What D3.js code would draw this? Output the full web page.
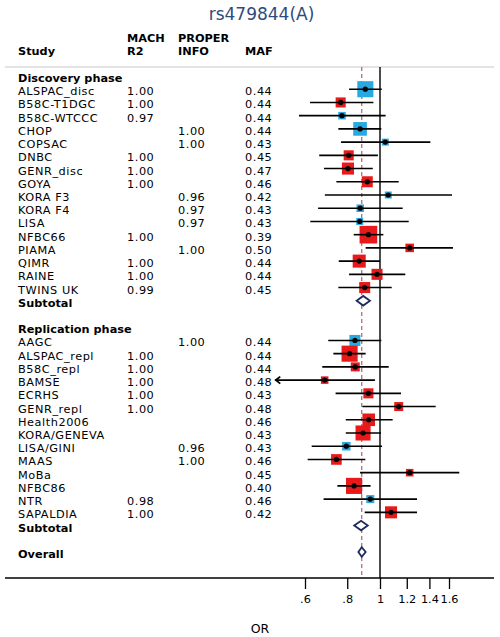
<!DOCTYPE html>
<html><head><meta charset="utf-8">
<script src="https://cdn.jsdelivr.net/npm/d3@7"></script>
<style>
body{margin:0;background:#fff;}
text{font-family:"DejaVu Sans",Verdana,sans-serif;}
</style></head>
<body><svg id="c" width="500" height="637"></svg>
<script>
// ---- data ----
const title = "rs479844(A)";
const discStudies = ["ALSPAC_disc","B58C-T1DGC","B58C-WTCCC","CHOP","COPSAC","DNBC","GENR_disc","GOYA","KORA F3","KORA F4","LISA","NFBC66","PIAMA","QIMR","RAINE","TWINS UK"];
const discMach   = ["1.00","1.00","0.97","","","1.00","1.00","1.00","","","","1.00","","1.00","1.00","0.99"];
const discProper = ["","","","1.00","1.00","","","","0.96","0.97","0.97","","1.00","","",""];
const discMaf    = ["0.44","0.44","0.44","0.44","0.43","0.45","0.47","0.46","0.42","0.43","0.43","0.39","0.50","0.44","0.44","0.45"];
const discOR     = [0.905,0.765,0.772,0.873,1.037,0.808,0.804,0.917,1.058,0.874,0.871,0.924,1.224,0.868,0.980,0.901];
const discLo     = [0.810,0.621,0.576,0.753,0.767,0.661,0.683,0.743,0.687,0.656,0.622,0.836,0.907,0.755,0.810,0.753];
const discHi     = [1.012,0.956,1.039,1.009,1.409,0.986,0.952,1.136,1.633,1.167,1.216,1.023,1.644,1.000,1.188,1.083];
const discWeight = [6.4,2.5,1.4,4.6,1.2,2.5,3.6,3.0,1.2,1.4,1.2,7.7,1.8,4.2,3.0,3.0];
const discType   = ["b","r","b","b","b","r","r","r","b","b","b","r","r","r","r","r"];

const replStudies = ["AAGC","ALSPAC_repl","B58C_repl","BAMSE","ECRHS","GENR_repl","Health2006","KORA/GENEVA","LISA/GINI","MAAS","MoBa","NFBC86","NTR","SAPALDIA"];
const replMach   = ["","1.00","1.00","1.00","1.00","1.00","","","","","","","0.98","1.00"];
const replProper = ["1.00","","","","","","","","0.96","1.00","","","",""];
const replMaf    = ["0.44","0.44","0.44","0.48","0.43","0.48","0.46","0.43","0.43","0.46","0.45","0.40","0.46","0.42"];
const replOR     = [0.843,0.813,0.845,0.686,0.924,1.136,0.926,0.891,0.795,0.743,1.224,0.838,0.936,1.078];
const replLo     = [0.703,0.728,0.675,0.470,0.739,0.887,0.792,0.792,0.628,0.611,0.873,0.748,0.681,0.901];
const replHi     = [1.009,0.907,1.061,0.966,1.154,1.461,1.090,1.007,1.014,0.905,1.716,0.938,1.287,1.287];
const replWeight = [3.0,6.4,2.0,1.4,2.5,2.0,3.9,5.6,1.8,2.8,1.4,6.4,1.6,3.6];
const replType   = ["b","r","r","r","r","r","r","r","b","r","r","r","b","r"];

const pooledLabels = ["Subtotal","Subtotal","Overall"];
const pooledOR = [0.892,0.879,0.883];
const pooledLo = [0.853,0.839,0.863];
const pooledHi = [0.934,0.920,0.907];

const tickValues = [0.6,0.8,1,1.2,1.4,1.6];
const tickLabels = [".6",".8","1","1.2","1.4","1.6"];
const plotMin = 0.49; // lower display limit (arrow beyond)

// ---- build rows ----
const rows = [];
rows.push({kind:"head", label:"Discovery phase"});
discStudies.forEach((s,i)=>rows.push({kind:"study",label:s,mach:discMach[i],proper:discProper[i],maf:discMaf[i],or:discOR[i],lo:discLo[i],hi:discHi[i],w:discWeight[i],t:discType[i]}));
rows.push({kind:"pool",label:pooledLabels[0],or:pooledOR[0],lo:pooledLo[0],hi:pooledHi[0]});
rows.push({kind:"blank"});
rows.push({kind:"head", label:"Replication phase"});
replStudies.forEach((s,i)=>rows.push({kind:"study",label:s,mach:replMach[i],proper:replProper[i],maf:replMaf[i],or:replOR[i],lo:replLo[i],hi:replHi[i],w:replWeight[i],t:replType[i]}));
rows.push({kind:"pool",label:pooledLabels[1],or:pooledOR[1],lo:pooledLo[1],hi:pooledHi[1]});
rows.push({kind:"blank"});
rows.push({kind:"pool",label:pooledLabels[2],or:pooledOR[2],lo:pooledLo[2],hi:pooledHi[2]});

// ---- scales ----
const svg = d3.select("#c");
const x = d3.scaleLog().domain([0.6,1.6]).range([305.0,449.0]);
const y = d3.scaleLinear().domain([0, rows.length-1]).range([76, 552]);
const size = d3.scaleSqrt().domain([0,8]).range([0,18]);
const colors = {b:"#27aae1", r:"#e8191b"};
const FS = 11.3, LS = 0.55;
const colStudy = 18, colMach = 127, colProper = 178, colMaf = 245;
const topY = 67, axisY = 578;

// title
svg.append("text").attr("x",261.5).attr("y",20).attr("text-anchor","middle")
  .attr("font-size",17).attr("fill","#2f4a7c").text(title);

// header
const hdr = svg.append("g").attr("font-weight","bold").attr("font-size",FS).attr("fill","#000");
hdr.append("text").attr("x",colStudy).attr("y",55).text("Study");
hdr.append("text").attr("x",colMach).attr("y",41.5).text("MACH");
hdr.append("text").attr("x",colMach).attr("y",55).text("R2");
hdr.append("text").attr("x",colProper).attr("y",41.5).text("PROPER");
hdr.append("text").attr("x",colProper).attr("y",55).text("INFO");
hdr.append("text").attr("x",colMaf).attr("y",55).text("MAF");

// top rule
svg.append("line").attr("x1",5).attr("x2",494).attr("y1",topY).attr("y2",topY)
  .attr("stroke","#c8c8c8").attr("stroke-width",1.2);

// text columns
const tg = svg.append("g").attr("font-size",FS);
rows.forEach((r,i)=>{
  if(r.kind==="blank") return;
  const yy = y(i)+6;
  const bold = r.kind!=="study";
  tg.append("text").attr("x",colStudy).attr("y",yy).attr("font-weight",bold?"bold":null)
    .attr("letter-spacing",bold?0:LS).text(r.label);
  if(r.kind==="study"){
    if(r.mach) tg.append("text").attr("x",colMach).attr("y",yy).attr("letter-spacing",LS).text(r.mach);
    if(r.proper) tg.append("text").attr("x",colProper).attr("y",yy).attr("letter-spacing",LS).text(r.proper);
    tg.append("text").attr("x",colMaf).attr("y",yy).attr("letter-spacing",LS).text(r.maf);
  }
});

// reference lines
svg.append("line").attr("x1",x(pooledOR[2])).attr("x2",x(pooledOR[2])).attr("y1",topY).attr("y2",axisY)
  .attr("stroke","#b0707e").attr("stroke-width",1.3).attr("stroke-dasharray","4,3");
svg.append("line").attr("x1",x(1)).attr("x2",x(1)).attr("y1",topY).attr("y2",axisY)
  .attr("stroke","#000").attr("stroke-width",1.4);

// study markers
const pg = svg.append("g");
rows.forEach((r,i)=>{
  if(r.kind!=="study") return;
  const cy = y(i), s = size(r.w);
  pg.append("rect").attr("x",x(r.or)-s/2).attr("y",cy-s/2).attr("width",s).attr("height",s)
    .attr("fill",colors[r.t]);
  const clipped = r.lo < plotMin;
  const x0 = x(Math.max(r.lo,plotMin));
  pg.append("line").attr("x1",x0).attr("x2",x(r.hi))
    .attr("y1",cy).attr("y2",cy).attr("stroke","#000").attr("stroke-width",1.6);
  if(clipped){
    pg.append("path").attr("d",`M${x0+5},${cy-3.5} L${x0+0.5},${cy} L${x0+5},${cy+3.5}`)
      .attr("fill","none").attr("stroke","#000").attr("stroke-width",1.8);
  }
  pg.append("circle").attr("cx",x(r.or)).attr("cy",cy).attr("r",2.6).attr("fill","#000");
});

// pooled diamonds
rows.forEach((r,i)=>{
  if(r.kind!=="pool") return;
  const cy = y(i), h = 4.8;
  pg.append("path").attr("d",`M${x(r.lo)},${cy} L${x(r.or)},${cy-h} L${x(r.hi)},${cy} L${x(r.or)},${cy+h} Z`)
    .attr("fill","#fff").attr("stroke","#1e2a5c").attr("stroke-width",1.8);
});

// axis
svg.append("line").attr("x1",5).attr("x2",494).attr("y1",axisY).attr("y2",axisY)
  .attr("stroke","#000").attr("stroke-width",1.4);
const axis = d3.axisBottom(x).tickValues(tickValues).tickFormat((d,i)=>tickLabels[i]).tickSize(11).tickPadding(6);
const ag = svg.append("g").attr("transform",`translate(0,${axisY})`).call(axis);
ag.select(".domain").remove();
ag.selectAll(".tick line").attr("stroke","#000").attr("stroke-width",1.3);
ag.selectAll(".tick text").attr("font-size",FS).attr("font-family","DejaVu Sans").attr("fill","#000");

svg.append("text").attr("x",260).attr("y",633).attr("text-anchor","middle").attr("font-size",12.5).text("OR");
</script></body></html>
